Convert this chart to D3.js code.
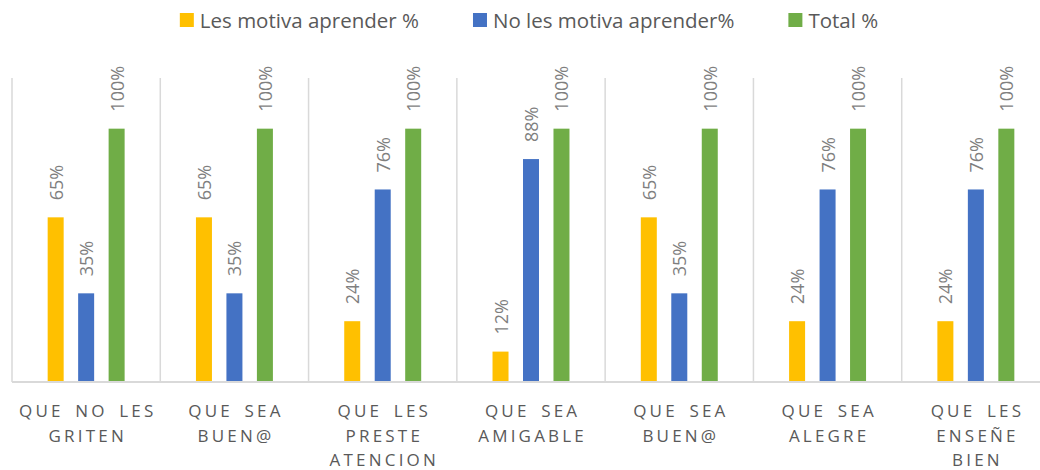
<!DOCTYPE html>
<html>
<head>
<meta charset="utf-8">
<script src="https://cdn.jsdelivr.net/npm/d3@7"></script>
<style>
  html, body { margin: 0; padding: 0; background: #fff; }
  svg { display: block; font-family: "Open Sans", "Noto Sans", sans-serif; }
</style>
</head>
<body>
<svg id="chart" width="1040" height="470"></svg>
<script>
// Categories (axis labels) and series
const categories = [
  "QUE NO LES GRITEN",
  "QUE SEA BUEN@",
  "QUE LES PRESTE ATENCION",
  "QUE SEA AMIGABLE",
  "QUE SEA BUEN@ ",
  "QUE SEA ALEGRE",
  "QUE LES ENSEÑE BIEN"
];
const seriesNames = ["Les motiva aprender %", "No les motiva aprender%", "Total %"];
const seriesColors = ["#FFC000", "#4472C4", "#70AD47"];

const motiva    = [0.65, 0.65, 0.24, 0.12, 0.65, 0.24, 0.24];
const noMotiva  = [0.35, 0.35, 0.76, 0.88, 0.35, 0.76, 0.76];
const total     = [1.00, 1.00, 1.00, 1.00, 1.00, 1.00, 1.00];
const seriesValues = [motiva, noMotiva, total];

const yDomainMax = 1.2;

const svg = d3.select("#chart");
const plot = { left: 12, right: 1050, top: 78, bottom: 382 };

const x0 = d3.scaleBand()
  .domain(d3.range(categories.length))
  .range([plot.left, plot.right])
  .paddingInner(0).paddingOuter(0);

const x1 = d3.scaleBand()
  .domain(d3.range(seriesNames.length))
  .range([0, x0.bandwidth()])
  .paddingInner(0.475)
  .paddingOuter(1.17);

const y = d3.scaleLinear().domain([0, yDomainMax]).range([plot.bottom, plot.top]);

const gridColor = "#d9d9d9";

// Vertical separators between categories
const seps = d3.range(categories.length + 1).map(i => i < categories.length ? x0(i) : plot.right);
svg.append("g").selectAll("line").data(seps).join("line")
  .attr("x1", d => d).attr("x2", d => d)
  .attr("y1", plot.top).attr("y2", plot.bottom)
  .attr("stroke", gridColor).attr("stroke-width", 1.5);

// Bars with rotated value labels
const groups = svg.append("g").selectAll("g").data(categories).join("g")
  .attr("transform", (d, i) => `translate(${x0(i)},0)`);

groups.each(function(cat, ci) {
  const g = d3.select(this);
  seriesValues.forEach((vals, si) => {
    const v = vals[ci];
    g.append("rect")
      .attr("x", x1(si))
      .attr("width", x1.bandwidth())
      .attr("y", y(v))
      .attr("height", y(0) - y(v))
      .attr("fill", seriesColors[si]);
    const cx = x1(si) + x1.bandwidth() / 2;
    g.append("text")
      .attr("transform", `translate(${cx},${y(v) - 17}) rotate(-90)`)
      .attr("text-anchor", "start")
      .attr("dominant-baseline", "central")
      .attr("font-size", 18)
      .attr("fill", "#7f7f7f")
      .text(d3.format(".0%")(v));
  });
});

// Baseline
svg.append("line")
  .attr("x1", plot.left).attr("x2", plot.right)
  .attr("y1", plot.bottom).attr("y2", plot.bottom)
  .attr("stroke", gridColor).attr("stroke-width", 2);

// Category axis labels, wrapped to the band width
const letterSpacing = 3.2;
const axisG = svg.append("g");
categories.forEach((cat, i) => {
  const cx = x0(i) + x0.bandwidth() / 2;
  const words = cat.trim().split(/\s+/);
  const t = axisG.append("text")
    .attr("font-size", 17)
    .attr("fill", "#595959")
    .attr("letter-spacing", letterSpacing)
    .attr("word-spacing", 4)
    .attr("text-anchor", "middle");
  const maxW = 140;
  let lines = [];
  let cur = [];
  const probe = t.append("tspan");
  words.forEach(w => {
    const test = cur.concat([w]).join(" ");
    probe.text(test);
    if (probe.node().getComputedTextLength() > maxW && cur.length) {
      lines.push(cur.join(" "));
      cur = [w];
    } else {
      cur.push(w);
    }
  });
  if (cur.length) lines.push(cur.join(" "));
  probe.remove();
  lines.forEach((ln, li) => {
    t.append("tspan")
      .attr("x", cx + letterSpacing / 2)
      .attr("y", 417 + li * 24.7)
      .text(ln);
  });
});

// Legend, centered above the plot
const legend = svg.append("g");
const sq = 14, gapText = 6, itemGap = 54;
const items = seriesNames.map((name, i) => {
  const t = legend.append("text")
    .attr("font-size", 20.5)
    .attr("fill", "#595959")
    .attr("y", 27.5)
    .text(name);
  return { t, w: t.node().getComputedTextLength(), color: seriesColors[i] };
});
const totalW = d3.sum(items, d => sq + gapText + d.w) + itemGap * (items.length - 1);
let lx = 529 - totalW / 2;
items.forEach(it => {
  legend.append("rect").attr("x", lx).attr("y", 13).attr("width", sq).attr("height", sq).attr("fill", it.color);
  it.t.attr("x", lx + sq + gapText);
  lx += sq + gapText + it.w + itemGap;
});
</script>
</body>
</html>
